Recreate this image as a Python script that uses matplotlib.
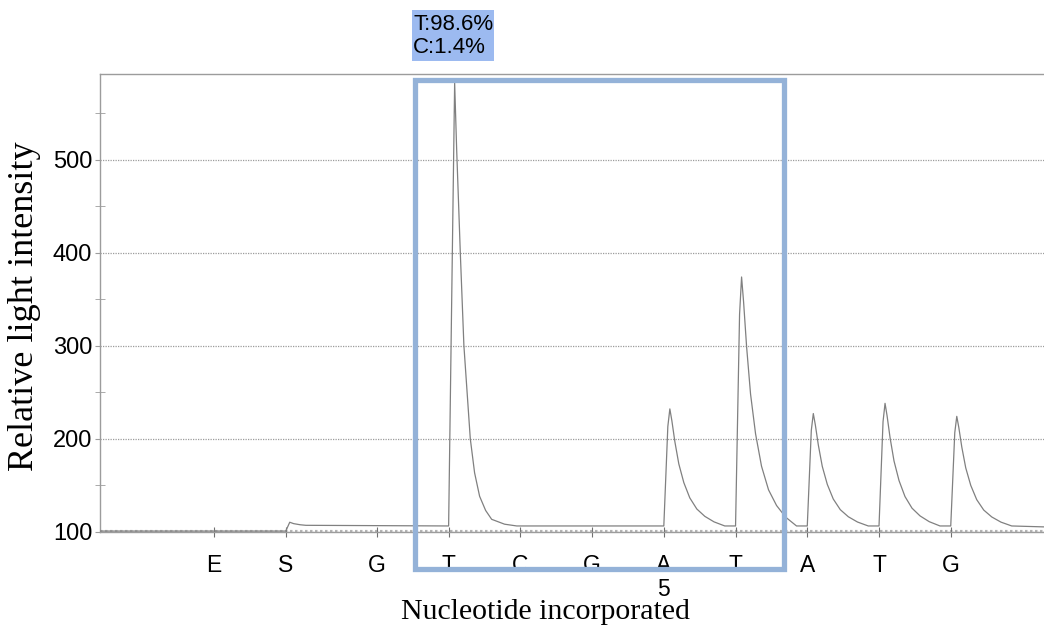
import matplotlib
matplotlib.use("Agg")
import matplotlib.pyplot as plt
from matplotlib.patches import Rectangle
from matplotlib.transforms import blended_transform_factory

# dispensation order and tick positions (G = dispensation 1)
disp_labels = ["E", "S", "G", "T", "C", "G", "A", "T", "A", "T", "G"]
disp_pos = [-1.27, -0.27, 1, 2, 3, 4, 5, 6, 7, 8, 9]

# peak positions, apex heights (relative light intensity) and which shape they follow
peak_pos = [2, 5, 6, 7, 8, 9]
peak_top = [583, 232, 374, 227, 238, 224]
peak_shape = ["sharp", "broad", "broad", "broad", "broad", "broad"]
baseline = 106

# peak shapes: offset after dispensation, fraction of peak height
sharp_dx = [0.0, 0.084, 0.112, 0.163, 0.213, 0.302, 0.362, 0.432, 0.516, 0.60, 0.78, 0.95]
sharp_fr = [0.0, 1.0, 0.85, 0.616, 0.407, 0.197, 0.12, 0.067, 0.035, 0.015, 0.004, 0.0]
broad_dx = [0.0, 0.056, 0.084, 0.112, 0.154, 0.209, 0.279, 0.362, 0.46, 0.572, 0.70, 0.85]
broad_fr = [0.0, 0.85, 1.0, 0.9, 0.72, 0.53, 0.37, 0.24, 0.145, 0.082, 0.035, 0.0]
shapes = {"sharp": (sharp_dx, sharp_fr), "broad": (broad_dx, broad_fr)}

# small substrate bump at S
s_dx = [0.0, 0.055, 0.11, 0.2, 0.28]
s_y = [100.5, 110, 108.5, 107.3, 106.7]

allele_text = "T:98.6%\nC:1.4%"

xmin, xmax = -2.86, 10.3
ymin, ymax = 99.5, 592.5

# build the trace
xs = [xmin]
ys = [100.5]
for dx, y in zip(s_dx, s_y):
    xs.append(disp_pos[1] + dx)
    ys.append(y)
for pos, top, kind in zip(peak_pos, peak_top, peak_shape):
    pdx, pfr = shapes[kind]
    for dx, fr in zip(pdx, pfr):
        xs.append(pos + dx)
        ys.append(baseline + (top - baseline) * fr)
xs.append(xmax)
ys.append(baseline - 1)

fig = plt.figure(figsize=(10.44, 6.30), dpi=100)
ax = fig.add_axes([100 / 1044, 98 / 630, 944 / 1044, 458 / 630])

grey = "#9c9c9c"
ax.set_xlim(xmin, xmax)
ax.set_ylim(ymin, ymax)

# grid
ax.set_yticks([100, 200, 300, 400, 500])
ax.set_yticks([150, 250, 350, 450, 550], minor=True)
ax.yaxis.grid(True, which="major", linestyle=(0, (1, 1)), color=grey, linewidth=0.9)
ax.axhline(100, color="#b4b4b4", linestyle=(0, (0.6, 0.6)), linewidth=3, zorder=1)

ax.plot(xs, ys, color="#808080", linewidth=0.9, zorder=3)

for side in ["left", "top", "bottom"]:
    ax.spines[side].set_color(grey)
    ax.spines[side].set_linewidth(1.0)
ax.spines["right"].set_visible(False)

ax.set_xticks(disp_pos)
ax.set_xticklabels(disp_labels, fontsize=16.5, family="Liberation Sans")
ax.set_yticklabels(["100", "200", "300", "400", "500"], fontsize=17, family="Liberation Sans")
ax.tick_params(axis="x", direction="inout", length=7, color="#707070", pad=12)
ax.tick_params(axis="y", which="major", direction="out", length=3.5, color=grey, pad=2)
ax.tick_params(axis="y", which="minor", direction="inout", length=6.5, color=grey)

# dispensation number under A
trans = blended_transform_factory(ax.transData, fig.transFigure)
ax.text(5, 1 - 589 / 630, "5", transform=trans, ha="center", va="center",
        fontsize=16.5, family="Liberation Sans")

fig.text(25 / 1044, 1 - 306 / 630, "Relative light intensity", rotation=90,
         ha="center", va="center", family="Liberation Serif", fontsize=26)
fig.text(545 / 1044, 1 - 612 / 630, "Nucleotide incorporated", ha="center", va="center",
         family="Liberation Serif", fontsize=21.5)

# region box for the analysed variant
box = Rectangle((1.535, 59.7), 6.68 - 1.535, 586 - 59.7, fill=False,
                edgecolor="#94b2d8", linewidth=3.8, clip_on=False, zorder=4)
ax.add_patch(box)

# allele frequency label
fig.patches.append(Rectangle((412 / 1044, 1 - 61 / 630), 82 / 1044, 51 / 630,
                             transform=fig.transFigure, facecolor="#9cbaf0",
                             edgecolor="none"))
fig.text(413 / 1044, 1 - 36 / 630, allele_text, ha="left", va="center",
         fontsize=16, family="Liberation Sans", linespacing=1.1)

fig.savefig("out.png", dpi=100)
